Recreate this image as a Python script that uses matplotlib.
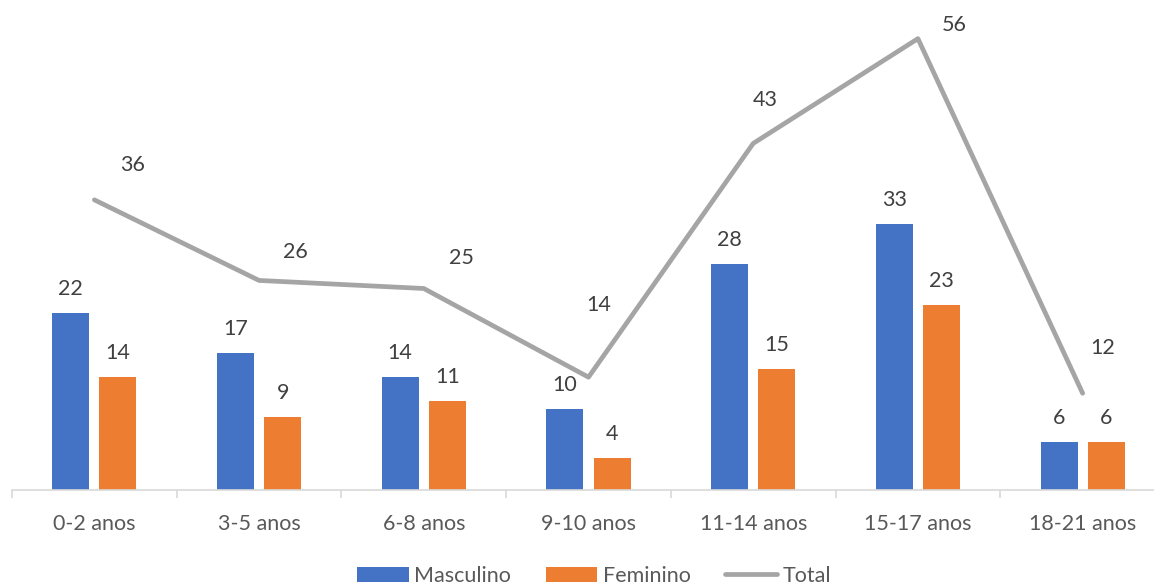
import matplotlib.pyplot as plt
import numpy as np

categorias = ["0-2 anos", "3-5 anos", "6-8 anos", "9-10 anos", "11-14 anos", "15-17 anos", "18-21 anos"]
masculino = [22, 17, 14, 10, 28, 33, 6]
feminino = [14, 9, 11, 4, 15, 23, 6]
total = [36, 26, 25, 14, 43, 56, 12]

# offsets of the Total labels (pixels) as placed in the original
total_offsets = [(38, 35), (36, 28), (38, 31), (10, 72), (12, 43), (36, 14), (20, 45)]

plt.rcParams['font.family'] = ['Lato', 'DejaVu Sans']
fs = 15.5

fig = plt.figure(figsize=(11.54, 5.85), dpi=100)
ax = fig.add_axes([12 / 1154, 95 / 585, 1153 / 1154, 483.6 / 585])

x = np.arange(len(categorias))
w = 0.225
off = 0.143
b1 = ax.bar(x - off, masculino, w, color="#4472C4", label="Masculino", zorder=2)
b2 = ax.bar(x + off, feminino, w, color="#ED7D31", label="Feminino", zorder=2)
l1, = ax.plot(x, total, color="#A5A5A5", lw=3.4, label="Total", zorder=3, solid_capstyle="round")

for i in range(len(x)):
    ax.annotate(str(masculino[i]), (x[i] - off, masculino[i]), xytext=(0, 24), textcoords="offset pixels",
                ha="center", va="center", fontsize=fs, color="#404040")
    ax.annotate(str(feminino[i]), (x[i] + off, feminino[i]), xytext=(0, 24), textcoords="offset pixels",
                ha="center", va="center", fontsize=fs, color="#404040")
    dx, dy = total_offsets[i]
    ax.annotate(str(total[i]), (x[i], total[i]), xytext=(dx, dy), textcoords="offset pixels",
                ha="center", va="center", fontsize=fs, color="#404040")

ax.set_xlim(-0.5, len(x) - 0.5)
ax.set_ylim(0, 60)
ax.set_yticks([])
for s in ["top", "right", "left"]:
    ax.spines[s].set_visible(False)
ax.spines["bottom"].set_color("#D9D9D9")
ax.spines["bottom"].set_linewidth(1.2)

ax.set_xticks(np.arange(len(x) + 1) - 0.5, minor=False)
ax.set_xticklabels([])
ax.tick_params(axis="x", which="major", length=6, color="#D9D9D9", width=1.2)
ax.set_xticks(x, minor=True)
ax.set_xticklabels(categorias, minor=True, fontsize=fs, color="#595959")
ax.tick_params(axis="x", which="minor", length=0, pad=17)

fig.legend([b1, b2, l1], ["Masculino", "Feminino", "Total"], loc="center",
           bbox_to_anchor=(0.5 + 17 / 1154, 9 / 585), ncol=3, frameon=False,
           fontsize=fs, labelcolor="#595959", handlelength=2.4, handleheight=0.7,
           handletextpad=0.25, columnspacing=1.6)

fig.savefig("out.png", dpi=100)
